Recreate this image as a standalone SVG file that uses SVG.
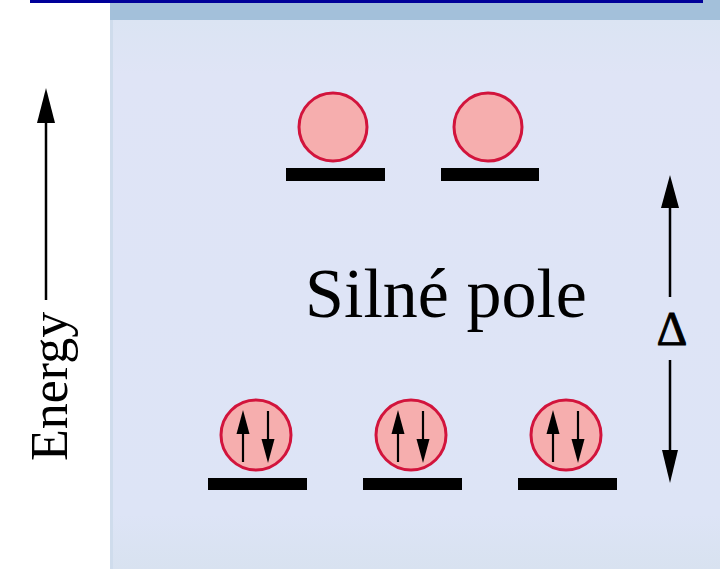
<svg xmlns="http://www.w3.org/2000/svg" width="720" height="583" viewBox="0 0 720 583">
  <defs>
    <style>
      .orb { fill: #f6aeae; stroke: #d2143c; stroke-width: 3; }
      .bar { fill: #000; }
      .spin { stroke: #000; stroke-width: 2.2; fill: none; }
      .head { fill: #000; }
      .axis { stroke: #000; stroke-width: 2.5; fill: none; }
      .serif { font-family: "Liberation Serif", "Times New Roman", serif; fill: #000; }
    </style>
    <linearGradient id="panelGrad" x1="0" y1="0" x2="0" y2="1">
      <stop offset="0" stop-color="#dbe4f3"/>
      <stop offset="0.1" stop-color="#dfe4f6"/>
      <stop offset="0.9" stop-color="#dde4f6"/>
      <stop offset="1" stop-color="#d8e2f0"/>
    </linearGradient>
  </defs>

  <rect x="0" y="0" width="720" height="583" fill="#ffffff"/>

  <!-- panel -->
  <g id="panel">
    <rect x="110" y="20" width="610" height="549" fill="url(#panelGrad)"/>
    <rect x="110" y="20" width="3" height="549" fill="#cfdcec"/>
    <rect x="110" y="0" width="610" height="20" fill="#a3c0da"/>
    <rect x="30" y="0" width="673" height="3" fill="#000099"/>
  </g>

  <!-- upper orbitals -->
  <g id="orbital-e1">
    <circle class="orb" cx="333" cy="127" r="34"/>
    <rect class="bar" x="286" y="168" width="99" height="13"/>
  </g>
  <g id="orbital-e2">
    <circle class="orb" cx="488" cy="127" r="34"/>
    <rect class="bar" x="441" y="168" width="98" height="13"/>
  </g>

  <!-- lower orbitals -->
  <g id="orbital-t1">
    <circle class="orb" cx="256" cy="435" r="35"/>
    <line class="spin" x1="243" y1="462" x2="243" y2="428"/>
    <polygon class="head" points="243,410 236.5,434 249.5,434"/>
    <line class="spin" x1="268" y1="411" x2="268" y2="445"/>
    <polygon class="head" points="268,463 261.5,439 274.5,439"/>
    <rect class="bar" x="208" y="478" width="99" height="12"/>
  </g>
  <g id="orbital-t2">
    <circle class="orb" cx="411" cy="435" r="35"/>
    <line class="spin" x1="398" y1="462" x2="398" y2="428"/>
    <polygon class="head" points="398,410 391.5,434 404.5,434"/>
    <line class="spin" x1="423" y1="411" x2="423" y2="445"/>
    <polygon class="head" points="423,463 416.5,439 429.5,439"/>
    <rect class="bar" x="363" y="478" width="99" height="12"/>
  </g>
  <g id="orbital-t3">
    <circle class="orb" cx="566" cy="435" r="35"/>
    <line class="spin" x1="553" y1="462" x2="553" y2="428"/>
    <polygon class="head" points="553,410 546.5,434 559.5,434"/>
    <line class="spin" x1="578" y1="411" x2="578" y2="445"/>
    <polygon class="head" points="578,463 571.5,439 584.5,439"/>
    <rect class="bar" x="518" y="478" width="99" height="12"/>
  </g>

  <!-- label -->
  <g id="label">
    <text class="serif" x="305" y="317" font-size="70">Silné pole</text>
  </g>

  <!-- connectors -->
  <g id="connectors">
    <!-- energy axis -->
    <line class="axis" x1="46" y1="300" x2="46" y2="118"/>
    <polygon class="head" points="46,88 37,123 55,123"/>
    <!-- delta arrows -->
    <line class="axis" x1="670" y1="297" x2="670" y2="203"/>
    <polygon class="head" points="670,175 661,208 679,208"/>
    <line class="axis" x1="670" y1="360" x2="670" y2="455"/>
    <polygon class="head" points="670,483 662,450 678,450"/>
  </g>

  <g id="energy-label">
    <text class="serif" x="0" y="0" font-size="52" transform="translate(67,461) rotate(-90)">Energy</text>
  </g>
  <g id="delta-label">
    <text class="serif" x="672" y="345" font-size="48" text-anchor="middle" stroke="#000" stroke-width="0.8">Δ</text>
  </g>
</svg>
